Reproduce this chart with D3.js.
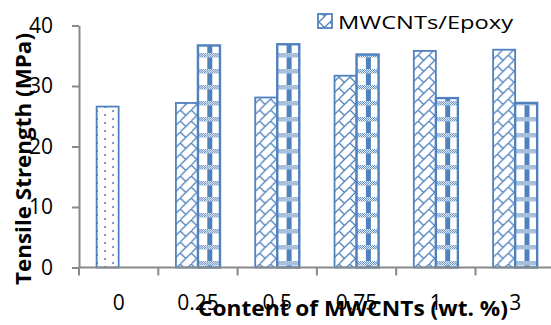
<!DOCTYPE html>
<html>
<head>
<meta charset="utf-8">
<script src="https://cdn.jsdelivr.net/npm/d3@7"></script>
<style>
  body { margin: 0; background: #fff; }
  text { font-family: "Open Sans", "Liberation Sans", sans-serif; fill: #000; }
</style>
</head>
<body>
<svg id="chart" width="551" height="325"></svg>
<script>
// Filler content (wt. %) on the category axis
const categories = ["0", "0.25", "0.5", "0.75", "1", "3"];
// Tensile strength (MPa); first point of the hatched series is neat epoxy
const epoxyComposite = [26.6, 27.2, 28.1, 31.7, 35.8, 36.0];
const secondComposite = [null, 36.7, 36.9, 35.2, 28.0, 27.2];
const yTicks = [0, 10, 20, 30, 40];
const legendLabel = "MWCNTs/Epoxy";
const xTitle = "Content of MWCNTs (wt. %)";
const yTitle = "Tensile Strength (MPa)";

const blue = "#4f81bd";
const axisGrey = "#898989";

const svg = d3.select("#chart");
const plot = { left: 79, right: 79 + 6 * 79.3, top: 25.5, bottom: 267.5 };

const x = d3.scaleBand().domain(categories).range([plot.left, plot.right]);
const series = ["a", "b"];
const x1 = d3.scaleBand().domain(series).range([0, x.bandwidth()])
  .paddingInner(0).paddingOuter(0.8);
const y = d3.scaleLinear().domain([0, 40]).range([plot.bottom, plot.top]);

// ---- fill patterns ----
const defs = svg.append("defs");

// sparse dots (neat epoxy bar)
const dots = defs.append("pattern").attr("id", "dots")
  .attr("patternUnits", "userSpaceOnUse").attr("width", 16).attr("height", 8);
dots.append("rect").attr("x", 1.3).attr("y", 6).attr("width", 1.6).attr("height", 2).attr("fill", blue);
dots.append("rect").attr("x", 9.3).attr("y", 2).attr("width", 1.6).attr("height", 2).attr("fill", blue);

// trellis hatch (MWCNTs/Epoxy)
const hatch = defs.append("pattern").attr("id", "hatch")
  .attr("patternUnits", "userSpaceOnUse").attr("width", 11).attr("height", 11);
hatch.append("path").attr("d", "M-1,12 L12,-1 M0,0 L5.5,5.5")
  .attr("stroke", blue).attr("stroke-width", 1.3).attr("fill", "none");

// tiny checks used inside the banded pattern
const check = defs.append("pattern").attr("id", "check")
  .attr("patternUnits", "userSpaceOnUse").attr("width", 2).attr("height", 2);
check.append("rect").attr("width", 2).attr("height", 2).attr("fill", "#fff");
check.append("rect").attr("width", 1).attr("height", 1).attr("fill", blue);
check.append("rect").attr("x", 1).attr("y", 1).attr("width", 1).attr("height", 1).attr("fill", blue);

// stripe + checked band pattern (second series)
const band = defs.append("pattern").attr("id", "band")
  .attr("patternUnits", "userSpaceOnUse").attr("width", 16).attr("height", 16);
band.append("rect").attr("width", 16).attr("height", 16).attr("fill", "#fff");
band.append("rect").attr("x", 1).attr("width", 5).attr("height", 16).attr("fill", blue);
band.append("rect").attr("y", 5).attr("width", 16).attr("height", 4.5).attr("fill", "url(#check)");

// ---- bars ----
const rows = categories.map((c, i) => ({ c, a: epoxyComposite[i], b: secondComposite[i] }));

const groups = svg.append("g").selectAll("g").data(rows).join("g")
  .attr("transform", d => `translate(${x(d.c)},0)`);

groups.selectAll("rect")
  .data((d, i) => series.map(k => ({ k, v: d[k], i })).filter(e => e.v != null))
  .join("rect")
  .attr("x", e => x1(e.k))
  .attr("y", e => y(e.v))
  .attr("width", x1.bandwidth())
  .attr("height", e => y(0) - y(e.v))
  .attr("fill", e => e.k === "b" ? "url(#band)" : (e.i === 0 ? "url(#dots)" : "url(#hatch)"))
  .attr("stroke", blue)
  .attr("stroke-width", e => e.k === "b" ? 2.4 : 1.8);

// ---- axes ----
const yAxis = svg.append("g")
  .attr("transform", `translate(${plot.left},0)`)
  .call(d3.axisLeft(y).tickValues(yTicks).tickSize(7).tickPadding(19).tickSizeOuter(0));
yAxis.select(".domain").attr("stroke", axisGrey).attr("stroke-width", 2);
yAxis.selectAll(".tick line").attr("stroke", axisGrey).attr("stroke-width", 2);
yAxis.selectAll(".tick text").attr("font-size", 21).attr("fill", "#000")
  .style("font-family", '"Open Sans", sans-serif');

// category axis: boundary ticks, labels centred under groups
const xAxis = svg.append("g");
xAxis.append("line")
  .attr("x1", plot.left).attr("x2", plot.right)
  .attr("y1", y(0)).attr("y2", y(0))
  .attr("stroke", axisGrey).attr("stroke-width", 2);
const bounds = categories.map(c => x(c)).concat([x.range()[1]]);
xAxis.selectAll("line.tk").data(bounds).join("line").attr("class", "tk")
  .attr("x1", d => d).attr("x2", d => d)
  .attr("y1", y(0)).attr("y2", y(0) + 8)
  .attr("stroke", axisGrey).attr("stroke-width", 2);
xAxis.selectAll("text").data(categories).join("text")
  .attr("x", c => x(c) + x.bandwidth() / 2)
  .attr("y", 310)
  .attr("text-anchor", "middle")
  .attr("font-size", 21)
  .text(c => c);

// ---- titles ----
svg.append("text")
  .attr("transform", "translate(31,159) rotate(-90)")
  .attr("text-anchor", "middle")
  .attr("font-size", 21).attr("font-weight", "bold")
  .attr("textLength", 252).attr("lengthAdjust", "spacingAndGlyphs")
  .text(yTitle);

svg.append("text")
  .attr("x", 353).attr("y", 316)
  .attr("text-anchor", "middle")
  .attr("font-size", 21).attr("font-weight", "bold")
  .attr("textLength", 310).attr("lengthAdjust", "spacingAndGlyphs")
  .text(xTitle);

// ---- legend ----
const legend = svg.append("g");
legend.append("rect")
  .attr("x", 318).attr("y", 14).attr("width", 14).attr("height", 14)
  .attr("fill", "url(#hatch)").attr("stroke", blue).attr("stroke-width", 1.8);
legend.append("text")
  .attr("x", 338).attr("y", 28.5)
  .attr("font-size", 19)
  .attr("textLength", 175).attr("lengthAdjust", "spacingAndGlyphs")
  .text(legendLabel);
</script>
</body>
</html>
